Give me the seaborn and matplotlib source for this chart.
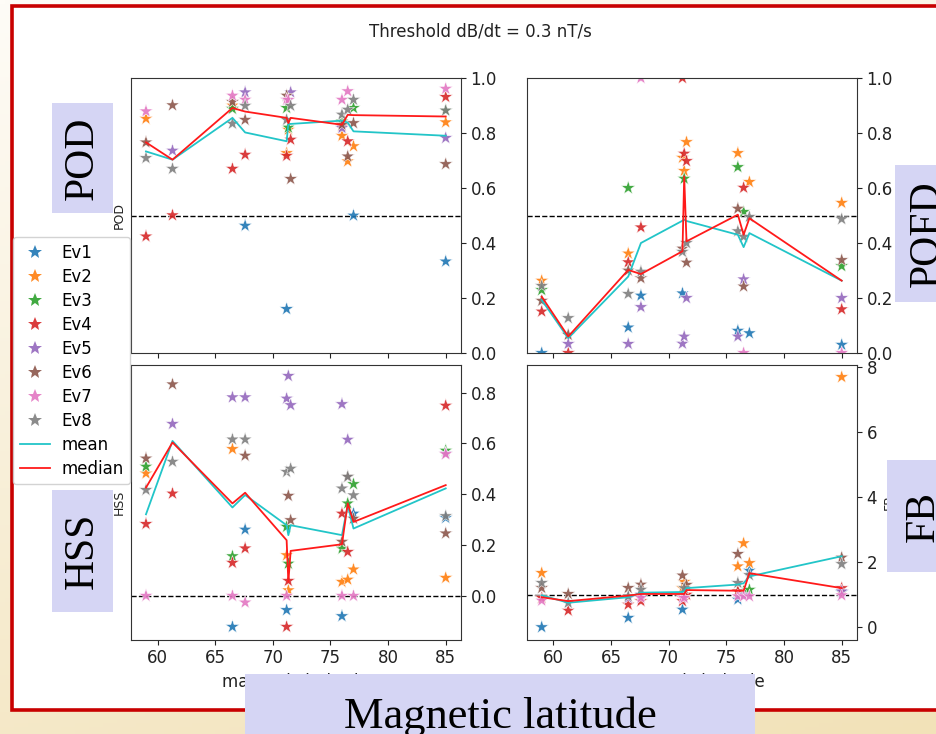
import numpy as np
import pandas as pd
import matplotlib
matplotlib.use("Agg")
import matplotlib.pyplot as plt
from matplotlib.patches import Rectangle
import seaborn as sns

N = float("nan")

# ---------------- data ----------------
lat = [59.0, 61.3, 66.5, 67.6, 71.2, 71.35, 71.55, 76.0, 76.5, 77.0, 85.0]
events = ["Ev1", "Ev2", "Ev3", "Ev4", "Ev5", "Ev6", "Ev7", "Ev8"]

pod_ev = [
    [N, N, N, 0.463, 0.16, N, N, N, N, 0.50, 0.333],
    [0.852, N, 0.90, N, 0.727, 0.812, N, 0.79, 0.697, 0.752, 0.839],
    [N, N, 0.888, N, 0.891, 0.82, N, 0.842, N, 0.891, 0.882],
    [0.424, 0.501, 0.670, 0.721, 0.717, N, 0.776, 0.824, 0.77, N, 0.931],
    [N, 0.736, N, 0.948, N, N, 0.948, 0.818, N, N, 0.782],
    [0.766, 0.901, 0.913, 0.848, 0.936, N, 0.633, 0.83, 0.715, 0.836, 0.687],
    [0.879, N, 0.936, 0.921, 0.921, 0.92, N, 0.921, 0.952, N, 0.961],
    [0.709, 0.670, 0.834, 0.899, 0.848, N, 0.899, 0.867, 0.885, 0.921, 0.882],
]
pofd_ev = [
    [0.0, N, 0.093, 0.209, 0.217, N, N, 0.081, N, 0.072, 0.03],
    [0.263, N, 0.362, N, 0.71, 0.662, 0.767, 0.727, N, 0.622, 0.546],
    [0.229, N, 0.6, N, N, 0.634, N, 0.676, 0.513, N, 0.316],
    [0.151, 0.0, 0.33, 0.457, 1.0, 0.725, 0.698, N, 0.601, N, 0.159],
    [N, 0.033, 0.033, 0.167, 0.034, 0.06, 0.2, 0.06, 0.268, N, 0.2],
    [0.19, 0.066, 0.30, 0.272, 0.38, N, 0.329, 0.525, 0.242, N, 0.338],
    [N, N, N, 1.0, N, N, N, N, 0.0, N, 0.0],
    [0.244, 0.127, 0.215, 0.296, 0.368, N, 0.40, 0.443, 0.423, 0.495, 0.487],
]
hss_ev = [
    [N, N, -0.122, 0.261, -0.056, N, N, -0.08, N, 0.324, 0.307],
    [0.482, N, 0.578, N, 0.16, 0.022, N, 0.055, 0.064, 0.104, 0.071],
    [0.509, N, 0.156, N, 0.272, 0.127, N, 0.186, 0.364, 0.44, 0.572],
    [0.283, 0.403, 0.13, 0.187, -0.122, 0.059, N, 0.324, 0.173, N, 0.749],
    [N, 0.677, 0.782, 0.782, 0.777, 0.866, 0.751, 0.755, 0.615, N, 0.56],
    [0.541, 0.833, N, 0.552, N, 0.394, 0.298, 0.213, 0.469, 0.304, 0.246],
    [0.0, N, 0.0, -0.026, 0.0, N, N, 0.0, N, 0.0, 0.558],
    [0.417, 0.528, 0.616, 0.616, 0.488, N, 0.501, 0.423, 0.469, 0.396, 0.314],
]
fb_ev = [
    [0.0, N, 0.286, N, 0.54, N, N, 0.85, N, 1.74, 1.08],
    [1.665, N, N, N, 1.2, 1.39, N, 1.87, 2.58, 1.97, 7.69],
    [N, N, N, N, N, N, N, 1.1, 1.1, 1.15, N],
    [0.9, 0.51, 0.695, 0.8, 0.8, N, 1.0, 1.1, N, N, 1.2],
    [N, N, 0.9, 1.0, N, N, N, N, 1.0, N, 1.1],
    [1.205, 1.02, 1.205, 1.31, 1.59, N, 1.3, 2.25, N, N, 2.14],
    [0.817, N, N, 0.9, 0.9, 0.9, N, 0.95, 0.95, 0.95, 0.98],
    [1.36, 0.746, 0.95, 1.15, N, 1.2, N, 1.36, N, 1.6, 1.94],
]

pod_mean = [0.733, 0.703, 0.855, 0.802, 0.77, 0.833, 0.833, 0.845, 0.838, 0.806, 0.79]
pod_median = [0.766, 0.703, 0.891, 0.878, 0.855, 0.836, 0.855, 0.83, 0.866, 0.865, 0.86]
pofd_mean = [0.193, 0.054, 0.278, 0.40, 0.481, 0.485, 0.48, 0.43, 0.385, 0.436, 0.263]
pofd_median = [0.205, 0.06, 0.302, 0.287, 0.37, 0.642, 0.406, 0.503, 0.43, 0.49, 0.263]
hss_mean = [0.321, 0.61, 0.348, 0.397, 0.278, 0.239, 0.278, 0.239, 0.357, 0.265, 0.423]
hss_median = [0.426, 0.604, 0.364, 0.406, 0.219, 0.055, 0.177, 0.203, 0.364, 0.291, 0.436]
fb_mean = [0.98, 0.75, 0.92, 1.06, 1.08, 1.1, 1.2, 1.31, 1.35, 1.56, 2.18]
fb_median = [0.92, 0.80, 0.97, 1.02, 1.02, 1.02, 1.14, 1.12, 1.12, 1.66, 1.20]

metric_names = ["POD", "POFD", "HSS", "FB"]
ref_levels = [0.5, 0.5, 0.0, 1.0]

# ---------------- figure ----------------
W, H = 936, 734
fig = plt.figure(figsize=(W / 100, H / 100), dpi=100)
plt.rcParams["font.family"] = ["DejaVu Sans"]


def fx(px):
    return px / W


def fy(py):
    return 1 - py / H


# slide background gradient
bg = fig.add_axes([0, 0, 1, 1], zorder=-10)
bg.axis("off")
top_c = np.array([254, 252, 247]) / 255
bot_c = np.array([242, 226, 184]) / 255
yy, xx = np.mgrid[0:1:200j, 0:1:200j]
t = np.clip(0.75 * yy + 0.25 * xx, 0, 1)[..., None]
grad = top_c * (1 - t) + bot_c * t
bg.imshow(grad, extent=[0, 1, 0, 1], aspect="auto", origin="upper")
bg.set_xlim(0, 1)
bg.set_ylim(0, 1)

# white panel with red border
fig.add_artist(Rectangle((fx(12), fy(710)), 1.0, (710 - 6) / H,
                         transform=fig.transFigure, facecolor="white",
                         edgecolor="#c80000", lw=2.6, zorder=-5))

pal = sns.color_palette("tab10", 8)

ax_pos = {
    "POD": [fx(131), fy(353), fx(460.7) - fx(131), (353 - 78) / H],
    "POFD": [fx(526.7), fy(353), fx(856.7) - fx(526.7), (353 - 78) / H],
    "HSS": [fx(131), fy(639.5), fx(460.7) - fx(131), (639.5 - 365) / H],
    "FB": [fx(526.7), fy(639.5), fx(856.7) - fx(526.7), (639.5 - 365) / H],
}
ev_data = {"POD": pod_ev, "POFD": pofd_ev, "HSS": hss_ev, "FB": fb_ev}
mean_data = {"POD": pod_mean, "POFD": pofd_mean, "HSS": hss_mean, "FB": fb_mean}
median_data = {"POD": pod_median, "POFD": pofd_median, "HSS": hss_median, "FB": fb_median}

axes = {}
for name, ref in zip(metric_names, ref_levels):
    ax = fig.add_axes(ax_pos[name])
    axes[name] = ax
    rows = []
    for ev, vals in zip(events, ev_data[name]):
        for la, v in zip(lat, vals):
            rows.append({"lat": la, "value": v, "event": ev})
    df = pd.DataFrame(rows).dropna()
    sns.scatterplot(data=df, x="lat", y="value", hue="event", hue_order=events,
                    palette=pal, marker="*", s=110, edgecolor="white",
                    linewidth=0.4, alpha=0.9, ax=ax, legend=(name == "POD"), zorder=2)
    ldf = pd.DataFrame({"lat": lat, "mean": mean_data[name], "median": median_data[name]})
    sns.lineplot(data=ldf, x="lat", y="mean", color="#22c5c8", lw=1.3, ax=ax,
                 label="mean", legend=False, zorder=3)
    sns.lineplot(data=ldf, x="lat", y="median", color="#ff1a1a", lw=1.3, ax=ax,
                 label="median", legend=False, zorder=4)
    ax.axhline(ref, ls="--", color="k", lw=1.0, zorder=1)
    ax.yaxis.tick_right()
    ax.tick_params(labelsize=12, colors="#222222")
    for sp in ax.spines.values():
        sp.set_color("#333333")
    ax.set_xlim(57.7, 86.3)
    ax.set_xticks([60, 65, 70, 75, 80, 85])
    if name in ("POD", "POFD"):
        ax.set_ylim(0, 1)
        ax.tick_params(labelbottom=False)
        ax.set_xlabel("")
    else:
        ax.set_xlabel("magnetic latitude", fontsize=12, color="#222222")
    ax.set_ylabel(name, fontsize=9, color="#222222")
    if name in ("POFD", "FB"):
        ax.yaxis.set_label_position("right")

axes["HSS"].set_ylim(-0.172, 0.909)
axes["FB"].set_ylim(-0.38, 8.06)

# legend
ax0 = axes["POD"]
leg0 = ax0.get_legend()
sc_handles = list(leg0.legend_handles)
sc_labels = [tx.get_text() for tx in leg0.get_texts()]
leg0.remove()
h, l = ax0.get_legend_handles_labels()
line_h = [hh for hh, ll in zip(h, l) if ll in ("mean", "median")]
line_l = [ll for ll in l if ll in ("mean", "median")]
for hh in sc_handles:
    try:
        hh.set_markeredgewidth(0)
        hh.set_markersize(10)
    except Exception:
        pass
fig.legend(sc_handles + line_h, sc_labels + line_l, loc="upper left",
           bbox_to_anchor=(fx(13), fy(237)), borderaxespad=0, fontsize=12,
           labelspacing=0.36, handlelength=1.8, handletextpad=0.7,
           framealpha=0.85)

fig.suptitle("Threshold dB/dt = 0.3 nT/s", x=fx(480), y=fy(22), fontsize=12,
             color="#222222", va="top")

# slide overlay labels
box_c = "#d5d5f4"
serif = ["Liberation Serif", "DejaVu Serif"]


def overlay(x0, y0, x1, y1, text, rot, size):
    fig.add_artist(Rectangle((fx(x0), fy(y1)), fx(x1) - fx(x0), (y1 - y0) / H,
                             transform=fig.transFigure, facecolor=box_c,
                             edgecolor="none", zorder=10))
    fig.text(fx((x0 + x1) / 2), fy((y0 + y1) / 2), text, rotation=rot,
             ha="center", va="center", fontsize=size, family=serif,
             color="black", zorder=11)


overlay(52, 103, 113, 213, "POD", 90, 30)
overlay(52, 490, 113, 612, "HSS", 90, 30)
overlay(895, 165, 960, 302, "POFD", 90, 30)
overlay(887, 460, 960, 572, "FB", 90, 30)
overlay(245, 674, 755, 760, "Magnetic latitude", 0, 32)

fig.savefig("out.png", dpi=100)
